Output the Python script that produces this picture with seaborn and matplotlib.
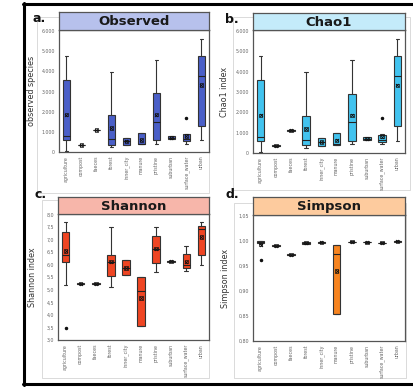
import numpy as np
import pandas as pd
import matplotlib
matplotlib.use("Agg")
import matplotlib.pyplot as plt
import seaborn as sns
from matplotlib.patches import Rectangle
from matplotlib.lines import Line2D
from matplotlib.ticker import FuncFormatter

habitats = ["agriculture", "compost", "faeces", "forest", "inner_city",
            "manure", "pristine", "suburban", "surface_water", "urban"]

# valores: bigote inf, q1, mediana, q3, bigote sup, media
obs_lo   = [30, 330, 1075, 230, 330, 380, 410, 645, 420, 580]
obs_q1   = [590, 335, 1080, 350, 330, 380, 580, 650, 530, 1300]
obs_med  = [780, 350, 1090, 645, 530, 410, 1470, 710, 645, 3750]
obs_q3   = [3560, 365, 1100, 1820, 690, 960, 2910, 780, 890, 4740]
obs_hi   = [4780, 370, 1105, 3950, 690, 960, 4580, 780, 900, 5600]
obs_mean = [1850, 350, 1090, 1190, 530, 610, 1850, 710, 790, 3320]
obs_out  = {"surface_water": 1700}

chao_lo   = [50, 340, 1100, 246, 360, 377, 426, 640, 443, 574]
chao_q1   = [607, 345, 1105, 377, 360, 377, 574, 645, 541, 1311]
chao_med  = [787, 360, 1115, 656, 541, 459, 1508, 705, 639, 3770]
chao_q3   = [3574, 375, 1125, 1836, 721, 967, 2918, 770, 902, 4754]
chao_hi   = [4787, 380, 1130, 3960, 721, 967, 4590, 775, 910, 5607]
chao_mean = [1852, 360, 1115, 1180, 541, 623, 1852, 705, 803, 3328]
chao_out  = {"surface_water": 1705}

sha_lo   = [5.19, 5.23, 5.23, 5.13, 5.57, 3.57, 5.72, 6.11, 5.75, 5.99]
sha_q1   = [6.12, 5.24, 5.24, 5.55, 5.57, 3.57, 6.07, 6.11, 5.85, 6.39]
sha_med  = [6.39, 5.25, 5.25, 6.12, 5.88, 4.96, 6.64, 6.13, 5.99, 7.41]
sha_q3   = [7.31, 5.26, 5.26, 6.39, 6.19, 5.51, 7.15, 6.15, 6.43, 7.53]
sha_hi   = [7.69, 5.27, 5.27, 7.49, 6.19, 5.51, 7.49, 6.15, 6.76, 7.72]
sha_mean = [6.55, 5.25, 5.25, 6.12, 5.88, 4.67, 6.64, 6.13, 6.12, 7.11]
sha_out  = {"agriculture": 3.49}

sim_lo   = [0.994, 0.990, 0.972, 0.9945, 0.9965, 0.854, 0.998, 0.997, 0.996, 0.999]
sim_q1   = [0.997, 0.9905, 0.9725, 0.995, 0.997, 0.854, 0.9983, 0.9971, 0.9963, 0.9990]
sim_med  = [0.999, 0.991, 0.973, 0.9967, 0.9973, 0.975, 0.9987, 0.9973, 0.9967, 0.9993]
sim_q3   = [0.9995, 0.9915, 0.9735, 0.9985, 0.9977, 0.992, 0.9990, 0.9975, 0.9970, 0.9996]
sim_hi   = [1.000, 0.992, 0.974, 0.999, 0.998, 0.992, 0.9993, 0.9977, 0.9973, 1.000]
sim_mean = [0.993, 0.991, 0.973, 0.9967, 0.9973, 0.940, 0.9987, 0.9973, 0.9967, 0.9993]
sim_out  = {"agriculture": 0.963}


def to_long(lo, q1, med, q3, hi, out):
    """Muestra de 9 puntos por habitat que reproduce q1/mediana/q3 y bigotes."""
    rows = []
    for i, h in enumerate(habitats):
        first, last = lo[i], hi[i]
        if h in out:
            if out[h] < q1[i]:
                first = out[h]
            else:
                last = out[h]
        vals = [first, lo[i], q1[i], q1[i], med[i], q3[i], q3[i], hi[i], last]
        rows += [(h, v) for v in vals]
    return pd.DataFrame(rows, columns=["habitat", "value"])


def fmt_thousands(v, _):
    return "0" if v == 0 else f"{int(v):,}".replace(",", ".")


panels = [
    dict(df=to_long(obs_lo, obs_q1, obs_med, obs_q3, obs_hi, obs_out), mean=obs_mean,
         title="Observed", ylabel="observed species", letter="a.",
         box="#4a5fc8", strip="#b7c1ec", ylim=(0, 6050), ticks=np.arange(0, 6001, 1000),
         fmt=fmt_thousands,
         rect=(59, 30, 150, 122), srect=(59, 12, 150, 18), lab=(33, 22), ylx=-0.153),
    dict(df=to_long(chao_lo, chao_q1, chao_med, chao_q3, chao_hi, chao_out), mean=chao_mean,
         title="Chao1", ylabel="Chao1 index", letter="b.",
         box="#42c3ef", strip="#c4ebfa", ylim=(0, 6050), ticks=np.arange(0, 6001, 1000),
         fmt=fmt_thousands,
         rect=(253, 30, 152, 123), srect=(253, 13, 152, 17), lab=(225, 23), ylx=-0.158),
    dict(df=to_long(sha_lo, sha_q1, sha_med, sha_q3, sha_hi, sha_out), mean=sha_mean,
         title="Shannon", ylabel="Shannon index", letter="c.",
         box="#ef4523", strip="#f7b6aa", ylim=(3.0, 8.02), ticks=np.arange(3.0, 8.01, 0.5),
         fmt=lambda v, _: f"{v:.1f}".replace(".", ","),
         rect=(58, 214, 151, 126), srect=(58, 197, 151, 17), lab=(35, 198), ylx=-0.139),
    dict(df=to_long(sim_lo, sim_q1, sim_med, sim_q3, sim_hi, sim_out), mean=sim_mean,
         title="Simpson", ylabel="Simpson index", letter="d.",
         box="#f7841f", strip="#fdcb9e", ylim=(0.80, 1.052), ticks=np.arange(0.80, 1.051, 0.05),
         fmt=lambda v, _: f"{v:.2f}".replace(".", ","),
         rect=(253, 215, 152, 126), srect=(253, 197, 152, 18), lab=(226, 198), ylx=-0.151),
]

sns.set_style("white")
plt.rcParams["font.family"] = ["DejaVu Sans"]

W, H = 414, 387
fig = plt.figure(figsize=(W / 100, H / 100), dpi=100)


def frac(x, y, w, h):
    return [x / W, 1 - (y + h) / H, w / W, h / H]


# marcos grises de cada panel (por detras de los ejes)
for (x0, y0, x1, y1) in [(37, 17, 209, 193), (233, 17, 410, 190),
                         (42, 200, 209, 378), (234, 203, 406, 378)]:
    fig.patches.append(Rectangle((x0 / W, 1 - y1 / H), (x1 - x0) / W, (y1 - y0) / H,
                                 transform=fig.transFigure, fill=False,
                                 edgecolor="#d4d4d4", lw=0.6, zorder=-5))

for p in panels:
    ax = fig.add_axes(frac(*p["rect"]))
    sns.boxplot(data=p["df"], x="habitat", y="value", order=habitats, ax=ax,
                color=p["box"], saturation=1, width=0.5, linecolor="#333333",
                linewidth=0.8, whis=1.5,
                flierprops=dict(marker="o", markersize=1.5, markerfacecolor="#111111",
                                markeredgecolor="#111111"),
                medianprops=dict(color="#222222", linewidth=0.8))
    mdf = pd.DataFrame({"habitat": habitats, "value": p["mean"]})
    sns.stripplot(data=mdf, x="habitat", y="value", order=habitats, ax=ax, jitter=False,
                  marker="s", size=2.6, color="none", edgecolor="#111111", linewidth=0.5)
    sns.stripplot(data=mdf, x="habitat", y="value", order=habitats, ax=ax, jitter=False,
                  marker="x", size=2.2, color="#111111", linewidth=0.6)
    ax.set_ylim(*p["ylim"])
    ax.set_xlim(-0.5, 9.5)
    ax.set_yticks(p["ticks"])
    ax.yaxis.set_major_formatter(FuncFormatter(p["fmt"]))
    ax.set_xlabel("")
    ax.set_ylabel(p["ylabel"], fontsize=5.8, color="#333333")
    ax.yaxis.set_label_coords(p["ylx"], 0.5)
    ax.tick_params(axis="both", labelsize=3.4, colors="#666666", length=1.2, width=0.4, pad=1.5)
    ax.tick_params(axis="x", labelrotation=90)
    for s in ax.spines.values():
        s.set_color("#555555")
        s.set_linewidth(0.9)

    sax = fig.add_axes(frac(*p["srect"]))
    sax.set_facecolor(p["strip"])
    sax.set_xticks([])
    sax.set_yticks([])
    for s in sax.spines.values():
        s.set_color("#555555")
        s.set_linewidth(0.9)
    sax.text(0.5, 0.45, p["title"], ha="center", va="center", fontsize=9.5,
             fontweight="bold", color="#1a1a1a", transform=sax.transAxes)

    fig.text(p["lab"][0] / W, 1 - p["lab"][1] / H, p["letter"], fontsize=9,
             fontweight="bold", color="#111111", ha="left", va="baseline")

# marco negro exterior (recortado por la derecha)
for xs, ys in [([24, 24], [3, 385]), ([23, 414], [4, 4]), ([23, 414], [384, 384])]:
    fig.lines.append(Line2D([x / W for x in xs], [1 - y / H for y in ys],
                            transform=fig.transFigure, color="black", lw=2.2))

fig.savefig("out.png", dpi=100)
